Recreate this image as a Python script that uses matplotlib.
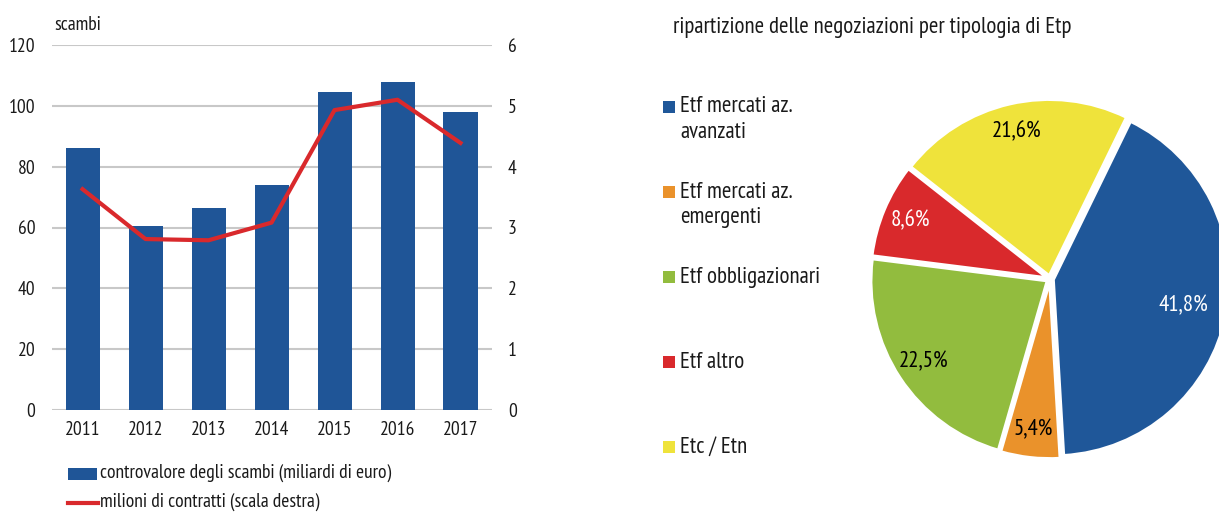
import matplotlib
matplotlib.use("Agg")
import matplotlib.pyplot as plt
from matplotlib.patches import Rectangle
from matplotlib.lines import Line2D

plt.rcParams['font.family'] = ['PT Sans Narrow', 'Roboto Condensed', 'DejaVu Sans']

# ---- data ----
years = ['2011', '2012', '2013', '2014', '2015', '2016', '2017']
controvalore = [86, 60.5, 66.5, 74, 104.5, 108, 98]
contratti = [3.63, 2.81, 2.79, 3.08, 4.93, 5.10, 4.39]
left_ticks = [0, 20, 40, 60, 80, 100, 120]
right_ticks = [0, 1, 2, 3, 4, 5, 6]

pie_labels = ['Etf mercati az.\navanzati', 'Etf mercati az.\nemergenti',
              'Etf obbligazionari', 'Etf altro', 'Etc / Etn']
pie_values = [41.8, 5.4, 22.5, 8.6, 21.6]
pie_colors = ['#1F5799', '#EA922B', '#92BC3E', '#D9292C', '#EFE33B']
pie_text_colors = ['white', 'black', 'black', 'white', 'black']

W, H = 1219, 512
fig = plt.figure(figsize=(W / 100, H / 100), dpi=100)

def fx(x):
    return x / W

def fy(y):
    return 1 - y / H

txt = '#1a1a1a'
fs = 14
fs_r = 16.5

# ---- bar + line chart ----
ax = fig.add_axes([fx(52), fy(410), fx(492) - fx(52), fy(45) - fy(410)])
x = list(range(len(years)))
ax.bar(x, controvalore, width=0.54, color='#1F5597', zorder=3)
ax.set_ylim(0, 120)
ax.set_yticks(left_ticks)
ax.set_xlim(-0.485, 6.5)
ax.set_xticks(x)
ax.set_xticklabels(years)
ax.grid(axis='y', color='#c8c8c8', linewidth=1.5, zorder=0)
ax.set_axisbelow(True)
for s in ax.spines.values():
    s.set_visible(False)
ax.tick_params(axis='both', length=0, labelsize=fs, colors=txt)
ax.tick_params(axis='y', pad=12)
ax.tick_params(axis='x', pad=8)

ax2 = ax.twinx()
ax2.plot(x, contratti, color='#D9292C', linewidth=3, zorder=4)
ax2.set_ylim(0, 6)
ax2.set_yticks(right_ticks)
for s in ax2.spines.values():
    s.set_visible(False)
ax2.tick_params(axis='y', length=0, labelsize=fs, colors=txt, pad=11.5)

fig.text(fx(54), fy(25), 'scambi', fontsize=fs, color=txt, va='center', ha='left')

# bar chart legend
leg_labels = ['controvalore degli scambi (miliardi di euro)',
              'milioni di contratti (scala destra)']
fig.add_artist(Rectangle((fx(68), fy(480)), 29 / W, 12 / H,
                         transform=fig.transFigure, facecolor='#1F5597',
                         edgecolor='none'))
fig.add_artist(Line2D([fx(68), fx(98)], [fy(503), fy(503)],
                      transform=fig.transFigure, color='#D9292C', linewidth=3))
fig.text(fx(100), fy(473), leg_labels[0], fontsize=fs, color=txt, va='center', ha='left')
fig.text(fx(100), fy(502), leg_labels[1], fontsize=fs, color=txt, va='center', ha='left')

# ---- pie ----
cx, cy, r = 1050, 279, 176
pax = fig.add_axes([fx(cx - 1.1 * r), fy(cy + 1.1 * r), 2.2 * r / W, 2.2 * r / H])
wedges, texts, autotexts = pax.pie(
    pie_values, colors=pie_colors, startangle=64, counterclock=False,
    explode=[0.02] * len(pie_values),
    wedgeprops=dict(edgecolor='white', linewidth=2),
    autopct=lambda p: f'{p:.1f}%'.replace('.', ','), pctdistance=0.84,
    textprops=dict(fontsize=fs_r))
for t, c in zip(autotexts, pie_text_colors):
    t.set_color(c)
# pull the large-slice label slightly inward so it stays inside the canvas
px, py = autotexts[0].get_position()
autotexts[0].set_position((px * 0.9, py * 0.9))
pax.set_xlim(-1.1, 1.1)
pax.set_ylim(-1.1, 1.1)
pax.set_aspect('equal')
pax.axis('off')

fig.text(fx(673), fy(28), 'ripartizione delle negoziazioni per tipologia di Etp',
         fontsize=fs_r, color=txt, va='center', ha='left')

row_y = [107, 192, 277, 362, 447]
for lab, col, yy in zip(pie_labels, pie_colors, row_y):
    fig.add_artist(Rectangle((fx(663), fy(yy + 6)), 12 / W, 12 / H,
                             transform=fig.transFigure, facecolor=col,
                             edgecolor='none'))
    for i, part in enumerate(lab.split('\n')):
        fig.text(fx(680), fy(yy + 25 * i), part, fontsize=fs_r, color=txt,
                 va='center', ha='left')

fig.savefig('out.png', dpi=100)
